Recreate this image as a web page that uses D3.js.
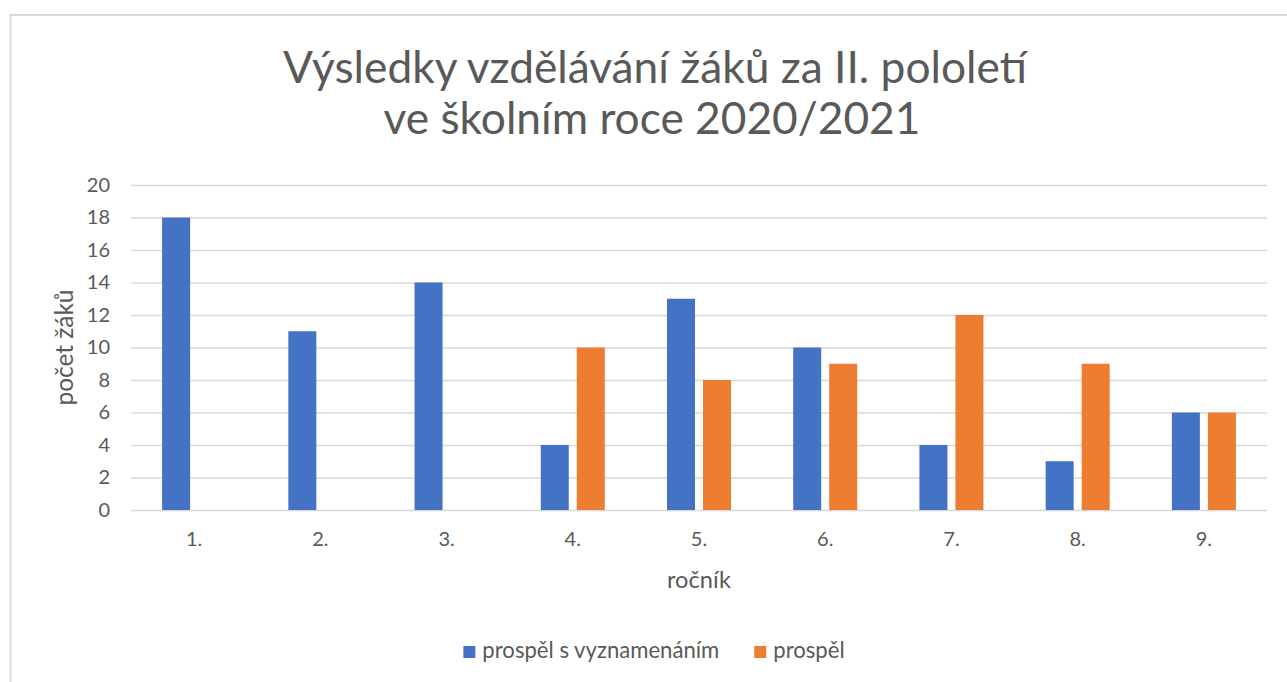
<!DOCTYPE html>
<html>
<head>
<meta charset="utf-8">
<script src="https://cdn.jsdelivr.net/npm/d3@7"></script>
<style>
  body { margin: 0; background: #fff; }
  text { font-family: Lato, "Open Sans", sans-serif; fill: #595959; }
</style>
</head>
<body>
<div id="chart"></div>
<script>
// data
var grades = ["1.", "2.", "3.", "4.", "5.", "6.", "7.", "8.", "9."];
var seriesNames = ["prospěl s vyznamenáním", "prospěl"];
var honours = [18, 11, 14, 4, 13, 10, 4, 3, 6];
var passed = [0, 0, 0, 10, 8, 9, 12, 9, 6];
var yTicks = [0, 2, 4, 6, 8, 10, 12, 14, 16, 18, 20];
var titleLines = ["Výsledky vzdělávání žáků za II. pololetí", "ve školním roce 2020/2021"];
var colors = ["#4472C4", "#ED7D31"];

var svgWidth = 1287;
var svgHeight = 682;

// plot area
var margin = { top: 185, right: 20, bottom: 172, left: 131 };
var chartWidth = 1267 - margin.left;
var chartHeight = 510 - margin.top;

var svg = d3.select("#chart")
  .append("svg")
  .attr("width", svgWidth)
  .attr("height", svgHeight);

// resize a text so it takes the width seen in the picture
function fitWidth(sel, base, target) {
  sel.attr("font-size", base);
  var w = sel.node().getComputedTextLength();
  var fs = base * target / w;
  sel.attr("font-size", fs);
  return fs;
}

// outer frame of the chart
svg.append("rect")
  .attr("x", 10.5)
  .attr("y", 15)
  .attr("width", 1290)
  .attr("height", 700)
  .attr("fill", "none")
  .attr("stroke", "#d9d9d9")
  .attr("stroke-width", 2);

// title, two lines
var titleBase = [83, 134];
var t1 = svg.append("text")
  .attr("x", 655)
  .attr("y", titleBase[0])
  .attr("text-anchor", "middle")
  .text(titleLines[0]);
var titleSize = fitWidth(t1, 36, 744);
svg.append("text")
  .attr("x", 652)
  .attr("y", titleBase[1])
  .attr("text-anchor", "middle")
  .attr("font-size", titleSize)
  .text(titleLines[1]);

var chartGroup = svg.append("g")
  .attr("transform", `translate(${margin.left}, ${margin.top})`);

// scales
var x0 = d3.scaleBand()
  .domain(grades)
  .range([0, chartWidth])
  .padding(0);

var x1 = d3.scaleBand()
  .domain(seriesNames)
  .range([0, x0.bandwidth()])
  .paddingInner(8 / 36)
  .paddingOuter(0.864);

var y = d3.scaleLinear()
  .domain([0, 20])
  .range([chartHeight, 0]);

// gridlines and y labels
var leftAxis = d3.axisLeft(y)
  .tickValues(yTicks)
  .tickSize(-chartWidth)
  .tickPadding(21)
  .tickFormat(d3.format("d"));

var gy = chartGroup.append("g").call(leftAxis);
gy.select(".domain").remove();
gy.selectAll("line").attr("stroke", "#d9d9d9").attr("stroke-width", 1.5);
gy.selectAll("text")
  .attr("font-size", 20)
  .attr("fill", "#595959")
  .style("font-family", "Lato, sans-serif");

var bottomAxis = d3.axisBottom(x0).tickSize(0).tickPadding(22);
var gx = chartGroup.append("g")
  .attr("transform", `translate(0, ${chartHeight})`)
  .call(bottomAxis);
gx.select(".domain").remove();
gx.selectAll("text")
  .attr("font-size", 20)
  .attr("fill", "#595959")
  .style("font-family", "Lato, sans-serif");

// bars
var rows = grades.map(function(g, i) {
  return { grade: g, values: [honours[i], passed[i]] };
});

var groups = chartGroup.selectAll(".grade")
  .data(rows)
  .enter()
  .append("g")
  .attr("transform", d => `translate(${x0(d.grade)}, 0)`);

groups.selectAll("rect")
  .data(d => d.values.map((v, j) => ({ key: seriesNames[j], value: v, idx: j })))
  .enter()
  .append("rect")
  .attr("x", d => x1(d.key))
  .attr("y", d => y(d.value))
  .attr("width", x1.bandwidth())
  .attr("height", d => chartHeight - y(d.value))
  .attr("fill", d => colors[d.idx]);

// axis titles
var yTitle = chartGroup.append("text")
  .attr("transform", "rotate(-90)")
  .attr("x", -chartHeight / 2)
  .attr("y", 73 - margin.left)
  .attr("text-anchor", "middle")
  .text("počet žáků");
fitWidth(yTitle, 20, 116);

var xTitle = chartGroup.append("text")
  .attr("x", chartWidth / 2)
  .attr("y", 588 - margin.top)
  .attr("text-anchor", "middle")
  .text("ročník");
fitWidth(xTitle, 20, 64);

// legend, centred under the plot
var legend = svg.append("g");
var lx = 0;
var legendSize = null;
seriesNames.forEach(function(name, i) {
  var item = legend.append("g").attr("transform", `translate(${lx}, 0)`);
  item.append("rect")
    .attr("x", 0)
    .attr("y", 646)
    .attr("width", 12)
    .attr("height", 12)
    .attr("fill", colors[i]);
  var t = item.append("text")
    .attr("x", 19)
    .attr("y", 658)
    .text(name);
  if (legendSize === null) legendSize = fitWidth(t, 18, 237);
  else t.attr("font-size", legendSize);
  lx += 19 + t.node().getComputedTextLength() + 35;
});
var legendWidth = lx - 35;
legend.attr("transform", `translate(${654 - legendWidth / 2}, 0)`);
</script>
</body>
</html>
